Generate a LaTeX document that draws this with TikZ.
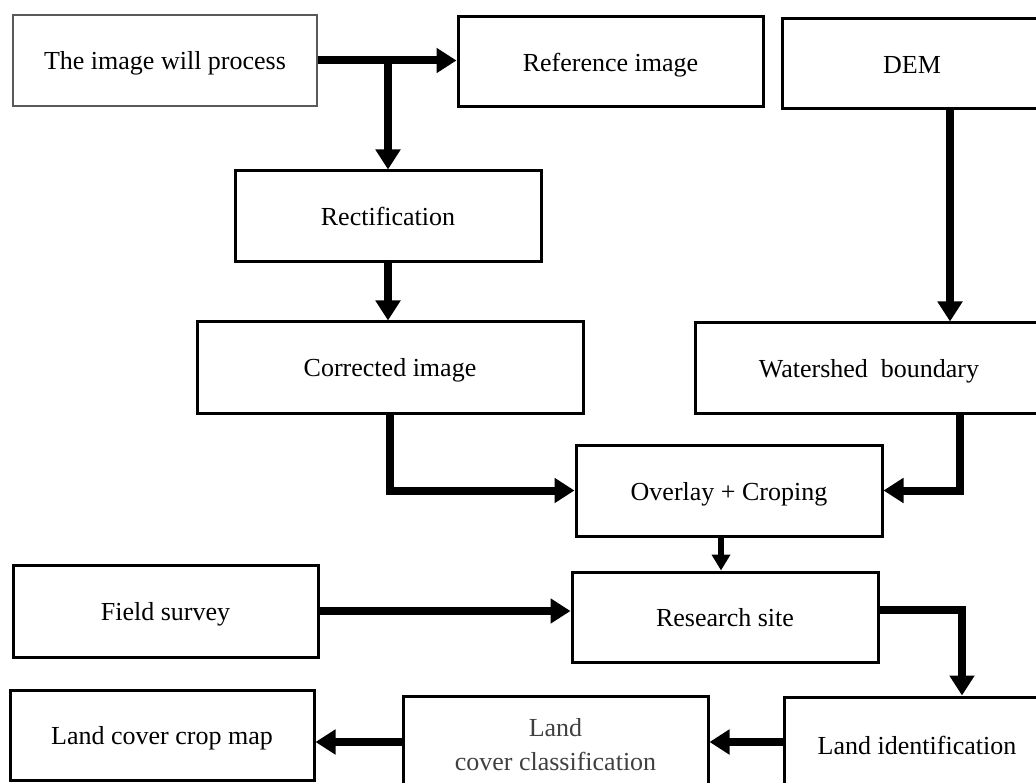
\documentclass[tikz,border=0pt]{standalone}
\usepackage{fontspec}
\setmainfont{Liberation Serif}
\usetikzlibrary{arrows.meta}
\begin{document}
\begin{tikzpicture}[x=1pt,y=-1pt,
  basebox/.style={draw=black,line width=3pt,rectangle,inner sep=0pt,font=\fontsize{26}{34}\selectfont},
  box/.style={basebox,text height=25pt,text depth=6pt},
  thinbox/.style={box,draw=black!65,line width=1.2pt},
  flow/.style={line width=8pt,-{Triangle[length=20pt,width=24pt]}},
  thinflow/.style={line width=6pt,-{Triangle[length=16pt,width=18pt]}}]
\useasboundingbox (0,0) rectangle (1036,783);
\clip (0,0) rectangle (1036,783);
\node[thinbox,minimum width=304pt,minimum height=91pt] (img) at (165,60.5) {The image will process};
\node[box,minimum width=305pt,minimum height=90pt] (ref) at (610.5,62) {Reference image};
\node[box,minimum width=260pt,minimum height=90pt] (dem) at (912,64) {DEM};
\node[box,minimum width=348pt,minimum height=90pt] (ws) at (869,368) {Watershed\ \ boundary};
\node[box,minimum width=306pt,minimum height=91pt] (rect) at (388,216.5) {Rectification};
\node[box,minimum width=386pt,minimum height=91pt] (corr) at (390,367.5) {Corrected image};
\node[box,minimum width=306pt,minimum height=91pt] (ovl) at (729,490.5) {Overlay + Croping};
\node[box,minimum width=306pt,minimum height=90pt] (res) at (725,617) {Research site};
\node[box,minimum width=305pt,minimum height=92pt] (field) at (165.5,611) {Field survey};
\node[box,minimum width=266pt,minimum height=96pt] (lid) at (917,745) {Land identification};
\node[basebox,align=center,text=black!75,minimum width=305pt,minimum height=98pt] (lcc) at (555.5,745) {Land\\cover classification};
\node[box,minimum width=304pt,minimum height=90pt] (lccm) at (162,735) {Land cover crop map};
\draw[flow] (img.east) -- (img.east -| ref.west);
\draw[flow] (rect.north |- img.east) -- (rect.north);
\draw[flow] (rect.south) -- (rect.south |- corr.north);
\draw[flow] (corr.south) |- (ovl.west);
\draw[flow] ([xshift=38pt]dem.south) -- ([xshift=38pt]dem.south |- ws.north);
\draw[flow] ([xshift=91pt]ws.south) |- (ovl.east);
\draw[thinflow] ([xshift=-8pt]ovl.south) -- ([xshift=-8pt]ovl.south |- res.north);
\draw[flow] (field.east) -- (field.east -| res.west);
\draw[flow] ([yshift=7pt]res.east) -| ([xshift=45pt]lid.north);
\draw[flow] ([yshift=3pt]lid.west) -- ([yshift=3pt]lid.west -| lcc.east);
\draw[flow] ([yshift=3pt]lcc.west) -- ([yshift=3pt]lcc.west -| lccm.east);
\end{tikzpicture}
\end{document}
